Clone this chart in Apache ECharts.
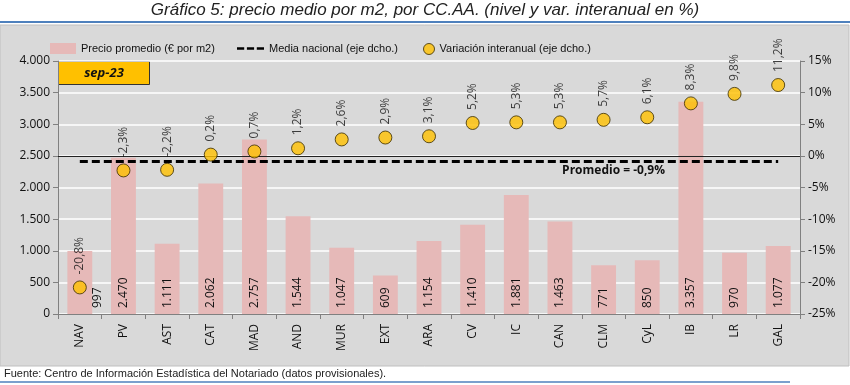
<!DOCTYPE html>
<html><head><meta charset="utf-8">
<script src="https://cdn.jsdelivr.net/npm/echarts@6/dist/echarts.min.js"></script>
<style>html,body{margin:0;padding:0;background:#fff}#c{width:850px;height:385px}</style>
</head><body><div id="c"></div>
<script>
const categories = ['NAV','PV','AST','CAT','MAD','AND','MUR','EXT','ARA','CV','IC','CAN','CLM','CyL','IB','LR','GAL'];
const precio = [997,2470,1111,2062,2757,1544,1047,609,1154,1410,1881,1463,771,850,3357,970,1077];
const variacion = [-20.8,-2.3,-2.2,0.2,0.7,1.2,2.6,2.9,3.1,5.2,5.3,5.3,5.7,6.1,8.3,9.8,11.2];
const mediaNacional = -0.9;
const leftTicks = {min:0,max:4000,interval:500};
const rightTicks = {min:-25,max:15,interval:5};

const fmtThousands = v => String(v).replace(/\B(?=(\d{3})+(?!\d))/g,'.');
const fmtPct = v => v.toFixed(1).replace('.',',') + '%';
const FONT = 'Open Sans';
const NARROW = '"Liberation Sans", Arial';

const legendText = {fontFamily:NARROW,fontSize:11,color:'#111'};

const chart = echarts.init(document.getElementById('c'));
const option = {
  animation:false,
  backgroundColor:'#ffffff',
  textStyle:{fontFamily:FONT},
  graphic:[
    {type:'rect',z:-10,shape:{x:0,y:25,width:849,height:341},style:{fill:'#d9d9d9',stroke:'#bfbfbf',lineWidth:1}},
    {type:'line',shape:{x1:0,y1:22,x2:850,y2:22},style:{stroke:'#4f81bd',lineWidth:2}},
    {type:'text',left:'center',top:2,style:{text:'Gráfico 5: precio medio por m2, por CC.AA. (nivel y var. interanual en %)',font:'italic 17px '+NARROW,fill:'#222'}},
    {type:'text',left:4,top:368,style:{text:'Fuente: Centro de Información Estadística del Notariado (datos provisionales).',font:'11px '+NARROW,fill:'#222'}},
    {type:'line',shape:{x1:0,y1:382,x2:790,y2:382},style:{stroke:'#4f81bd',lineWidth:1.5}},
    {type:'group',left:58,top:61,z:50,children:[
      {type:'rect',shape:{x:0,y:0,width:91,height:23},style:{fill:'#ffc000',stroke:'#333',lineWidth:1}},
      {type:'text',style:{x:45.5,y:11.5,text:'sep-23',align:'center',verticalAlign:'middle',font:'italic bold 13px '+FONT,fill:'#111'}}
    ]},
    {type:'text',right:185,top:165,z:50,style:{text:'Promedio = -0,9%',font:'bold 12px '+FONT,fill:'#111'}}
  ],
  legend:[
    {top:38,left:45,itemWidth:26,itemHeight:11,itemGap:4,textStyle:legendText,
     data:[{name:'Precio promedio (€ por m2)',icon:'rect'}]},
    {top:38,left:232,itemWidth:27,itemHeight:4,textStyle:legendText,
     data:[{name:'Media nacional (eje dcho.)',icon:'path://M0,0h8v3h-8z M11,0h8v3h-8z M22,0h8v3h-8z'}]},
    {top:38,left:418,itemWidth:11,itemHeight:11,textStyle:legendText,
     itemStyle:{borderWidth:1,borderColor:'#3a2c00'},
     data:[{name:'Variación interanual (eje dcho.)',icon:'circle'}]}
  ],
  grid:{left:58,right:50,top:61,bottom:71},
  xAxis:{
    type:'category',data:categories,
    axisLine:{lineStyle:{color:'#808080'}},
    axisTick:{show:true,alignWithLabel:false,lineStyle:{color:'#808080'},length:5},
    axisLabel:{rotate:90,fontFamily:FONT,fontSize:12,color:'#111',margin:10}
  },
  yAxis:[
    {type:'value',min:leftTicks.min,max:leftTicks.max,interval:leftTicks.interval,
     axisLine:{show:true,lineStyle:{color:'#808080'}},axisTick:{show:true,length:5,lineStyle:{color:'#808080'}},
     splitLine:{lineStyle:{color:'#ffffff',width:1.5}},
     axisLabel:{formatter:fmtThousands,fontFamily:FONT,fontSize:12,color:'#111',margin:8}},
    {type:'value',min:rightTicks.min,max:rightTicks.max,interval:rightTicks.interval,
     axisLine:{show:true,lineStyle:{color:'#808080'}},axisTick:{show:true,length:5,lineStyle:{color:'#808080'}},
     splitLine:{show:false},
     axisLabel:{formatter:v=>v+'%',fontFamily:FONT,fontSize:12,color:'#111',margin:8}}
  ],
  series:[
    {name:'Precio promedio (€ por m2)',type:'bar',yAxisIndex:0,barWidth:'57%',
     itemStyle:{color:'#e6b9b8'},
     data:precio.map((v,i)=>i===0?{value:v,label:{offset:[0,18]}}:v),
     label:{show:true,position:'insideBottom',rotate:90,align:'left',verticalAlign:'middle',distance:6,
       formatter:p=>fmtThousands(p.value),fontFamily:FONT,fontSize:12,color:'#111'}},
    {name:'Media nacional (eje dcho.)',type:'line',yAxisIndex:1,
     data:categories.map(()=>mediaNacional),symbol:'none',
     lineStyle:{color:'#000',width:3,type:[8,4]},itemStyle:{color:'#000'},z:5,
     markLine:{silent:true,symbol:'none',label:{show:false},lineStyle:{color:'#222',width:1.2,type:'solid'},data:[{yAxis:0}]}},
    {name:'Variación interanual (eje dcho.)',type:'scatter',yAxisIndex:1,data:variacion,
     symbolSize:13,itemStyle:{color:'#ffc000',borderColor:'#3a2c00',borderWidth:1},z:6,
     label:{show:true,position:'top',rotate:90,align:'left',verticalAlign:'middle',distance:6,
       formatter:p=>fmtPct(p.value),fontFamily:FONT,fontSize:12,color:'#111'}}
  ]
};
chart.setOption(option);
</script></body></html>
